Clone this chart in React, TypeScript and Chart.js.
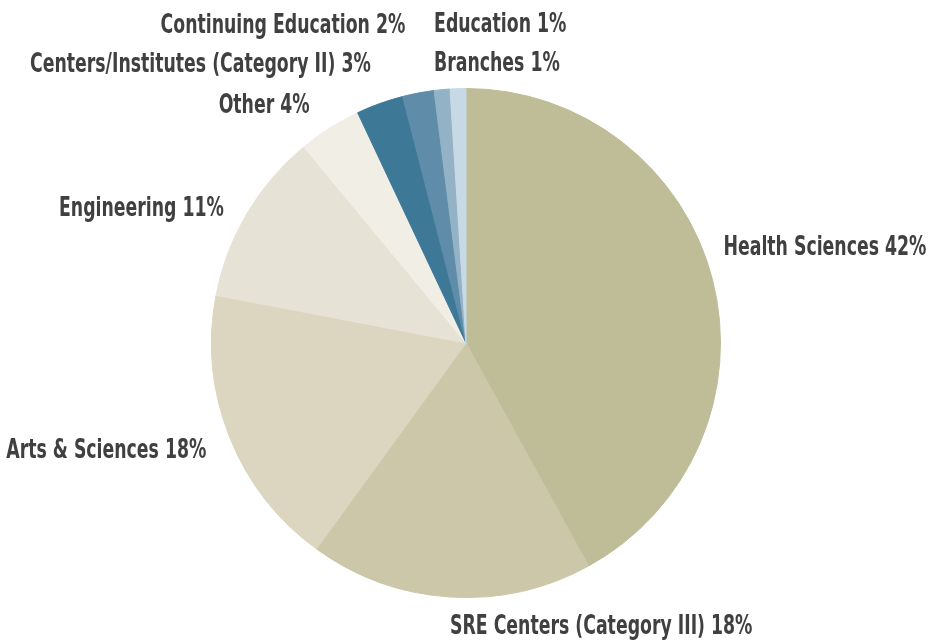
import React, { useEffect, useRef } from "react";
import { Chart, registerables } from "chart.js";

Chart.register(...registerables);

const categories = [
  "Health Sciences",
  "SRE Centers (Category III)",
  "Arts & Sciences",
  "Engineering",
  "Other",
  "Centers/Institutes (Category II)",
  "Continuing Education",
  "Education",
  "Branches",
];
const shares = [42, 18, 18, 11, 4, 3, 2, 1, 1];
const colors = [
  "#BFBC98",
  "#CCC7A9",
  "#DCD6C0",
  "#E7E2D6",
  "#F1EEE6",
  "#3D7897",
  "#5F8CA8",
  "#94B2C6",
  "#C6D9E5",
];
// label placement relative to each slice's outer midpoint
const labelAlign = ["left", "left", "right", "right", "right", "right", "right", "left", "left"];
const labelDx = [11, 0, -23, -23, -20, -9, -13, -8, -24];
const labelDy = [-31, 30, 15, -4, -22, -38, -67, -64, -24];

const FONT = "bold 26px 'Liberation Sans Narrow', 'DejaVu Sans Condensed', sans-serif";
const SCALE_X = 0.74;

const labelPlugin = {
  id: "outerLabels",
  afterDraw(chart: any) {
    const ctx = chart.ctx;
    const meta = chart.getDatasetMeta(0);
    ctx.save();
    ctx.font = FONT;
    ctx.fillStyle = "#404040";
    ctx.textBaseline = "middle";
    meta.data.forEach((arc: any, i: number) => {
      const p = arc.getProps(["x", "y", "startAngle", "endAngle", "outerRadius"], true);
      const mid = (p.startAngle + p.endAngle) / 2;
      const px = p.x + Math.cos(mid) * p.outerRadius + labelDx[i];
      const py = p.y + Math.sin(mid) * p.outerRadius + labelDy[i];
      const text = `${categories[i]} ${shares[i]}%`;
      ctx.save();
      ctx.translate(px, py);
      ctx.scale(SCALE_X, 1);
      ctx.textAlign = labelAlign[i];
      ctx.fillText(text, 0, 0);
      ctx.restore();
    });
    ctx.restore();
  },
};

export default function App() {
  const ref = useRef<HTMLCanvasElement>(null);
  useEffect(() => {
    if (!ref.current) return;
    const chart = new Chart(ref.current, {
      type: "pie",
      data: {
        labels: categories,
        datasets: [
          {
            data: shares,
            backgroundColor: colors,
            borderColor: colors,
            borderWidth: 1,
          },
        ],
      },
      options: {
        responsive: false,
        animation: false,
        layout: { padding: { left: 211, right: 210, top: 88, bottom: 45 } },
        plugins: {
          legend: { display: false },
          tooltip: { enabled: false },
        },
      },
      plugins: [labelPlugin],
    });
    return () => chart.destroy();
  }, []);
  return (
    <div style={{ position: "fixed", left: 0, top: 0, width: 931, height: 643, background: "#fff" }}>
      <canvas ref={ref} width={931} height={643} />
    </div>
  );
}
